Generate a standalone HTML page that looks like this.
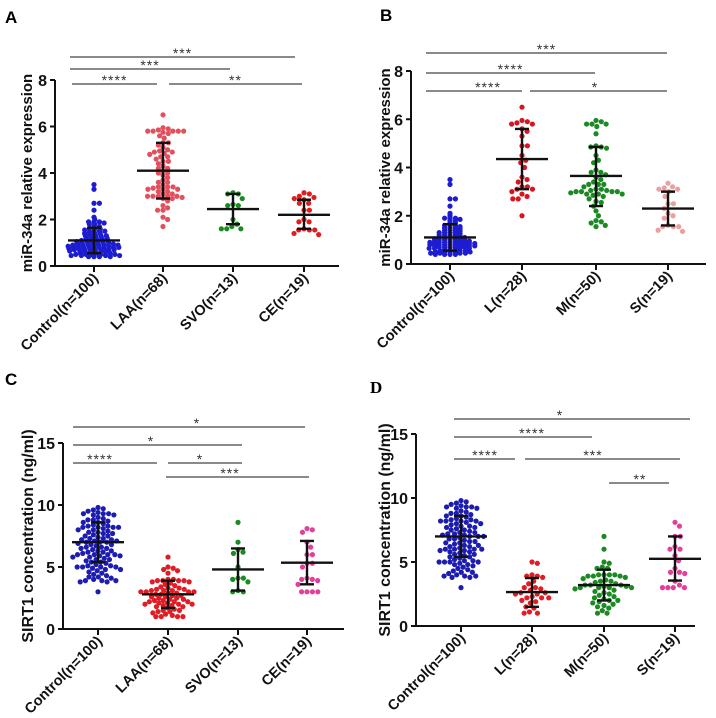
<!DOCTYPE html>
<html><head><meta charset="utf-8"><style>
body{margin:0;background:#fff;}
svg{display:block;font-family:"Liberation Sans",Arial,sans-serif;}
</style></head><body>
<svg id="fig" width="716" height="718" viewBox="0 0 716 718"></svg>
<script>
// ---- data arrays ----
const miCtrl=[3.5,3.3,2.7,2.7,2.4,2.1,2.0,1.9,1.9,1.9,1.85,1.8,1.8,1.7,1.7,1.6,1.6,1.6,1.55,1.5,1.5,1.5,1.45,1.4,1.4,1.4,1.35,1.3,1.3,1.3,1.25,1.2,1.2,1.2,1.15,1.1,1.1,1.1,1.1,1.05,1.05,1.0,1.0,1.0,1.0,0.95,0.95,0.95,0.9,0.9,0.9,0.9,0.9,0.85,0.85,0.85,0.85,0.8,0.8,0.8,0.8,0.8,0.75,0.75,0.75,0.75,0.7,0.7,0.7,0.7,0.7,0.65,0.65,0.65,0.65,0.6,0.6,0.6,0.55,0.55,0.55,0.5,0.5,0.5,0.5,0.5,0.45,0.45,0.45,0.45,0.4,0.4,0.4,0.4,1.0,1.1,1.2,0.9,0.8,1.3];
const miLAA=[6.5,5.95,5.9,5.85,5.8,5.8,5.8,5.8,5.8,5.75,5.7,5.6,5.5,5.3,5.3,5.2,5.0,4.95,4.9,4.9,4.85,4.8,4.7,4.6,4.5,4.4,4.3,4.2,4.2,4.1,4.0,3.9,3.8,3.7,3.6,3.5,3.4,3.4,3.4,3.35,3.3,3.3,3.3,3.2,3.2,3.1,3.1,3.0,3.0,3.0,3.0,3.0,2.95,2.9,2.9,2.8,2.6,2.5,2.4,2.4,2.1,2.0,1.7,4.5,4.0,3.6,5.1,4.7];
const miSVO=[3.15,3.1,3.1,2.9,2.65,2.6,2.6,2.0,1.8,1.6,1.6,1.6,1.7];
const miCE=[3.15,3.1,3.0,2.95,2.9,2.85,2.7,2.7,2.4,2.4,2.0,1.9,1.9,1.6,1.55,1.55,1.55,1.4,1.35];
const miL=[6.5,5.95,5.9,5.85,5.8,5.8,5.6,5.5,5.3,4.9,4.9,4.5,4.3,4.2,4.0,3.6,3.5,3.4,3.2,3.2,3.1,3.1,3.0,2.9,2.8,2.7,2.7,2.0];
const miM=[5.95,5.9,5.8,5.8,5.8,5.7,5.4,4.9,4.85,4.85,4.8,4.5,4.3,4.2,3.9,3.8,3.8,3.7,3.6,3.5,3.4,3.3,3.3,3.3,3.2,3.1,3.1,3.05,3.05,3.0,3.0,3.0,3.0,2.95,2.9,2.9,2.9,2.85,2.8,2.7,2.6,2.55,2.4,2.2,2.0,1.8,1.75,1.7,1.6,1.55];
const miS=[3.35,3.2,3.15,3.1,3.1,3.0,2.8,2.5,2.5,2.3,2.1,2.0,1.9,1.6,1.55,1.55,1.55,1.4,1.35];
const sCtrl=[9.8,9.7,9.6,9.5,9.4,9.3,9.3,9.3,9.2,9.2,9.0,8.9,8.8,8.8,8.7,8.6,8.5,8.4,8.3,8.3,8.2,8.2,8.2,8.2,8.1,8.0,8.0,7.9,7.8,7.8,7.7,7.6,7.5,7.5,7.4,7.3,7.2,7.2,7.1,7.1,7.0,7.0,7.0,6.9,6.8,6.8,6.7,6.6,6.5,6.5,6.4,6.3,6.2,6.2,6.1,6.0,6.0,6.0,6.0,5.9,5.9,5.8,5.8,5.7,5.6,5.6,5.5,5.4,5.3,5.2,5.1,5.1,5.0,5.0,5.0,5.0,4.9,4.8,4.8,4.7,4.6,4.5,4.4,4.3,4.2,4.2,4.1,4.0,3.9,3.9,3.9,3.8,3.8,3.0,7.3,6.6,8.6,7.7,6.3,5.4];
const sLAA=[5.8,5.0,4.9,4.8,4.7,4.5,4.0,4.0,3.9,3.9,3.9,3.9,3.8,3.8,3.7,3.6,3.5,3.4,3.3,3.3,3.2,3.2,3.1,3.1,3.1,3.0,3.0,3.0,3.0,2.9,2.9,2.8,2.8,2.7,2.7,2.6,2.6,2.5,2.5,2.4,2.4,2.3,2.3,2.2,2.2,2.2,2.1,2.1,2.0,2.0,2.0,1.9,1.9,1.8,1.8,1.7,1.6,1.5,1.5,1.4,1.4,1.3,1.2,1.1,1.0,1.0,1.0,1.0];
const sSVO=[8.6,7.0,6.4,6.2,6.1,5.0,4.1,4.1,4.0,3.8,3.1,3.0,3.0];
const sCE=[8.1,8.0,7.8,7.0,6.6,6.0,6.0,5.3,5.3,5.0,4.1,4.0,4.0,3.9,3.6,3.0,3.0,3.0,3.0];
const sL=[5.0,4.9,4.0,3.9,3.9,3.8,3.5,3.3,3.0,3.0,2.9,2.8,2.6,2.6,2.5,2.5,2.3,2.2,2.2,2.2,2.0,1.9,1.8,1.5,1.4,1.1,1.0,1.0];
const sM=[7.0,6.0,5.0,4.9,4.6,4.5,4.5,4.0,4.0,4.0,4.0,3.9,3.9,3.9,3.8,3.7,3.6,3.5,3.5,3.4,3.3,3.2,3.2,3.2,3.1,3.1,3.0,3.0,3.0,3.0,2.9,2.8,2.7,2.6,2.5,2.4,2.3,2.2,2.1,2.0,2.0,1.9,1.8,1.7,1.6,1.5,1.4,1.2,1.0,1.0];
const sS=[8.1,7.8,7.0,7.0,6.2,6.0,6.0,5.5,5.1,4.5,4.2,4.2,4.1,3.5,3.2,3.0,3.0,3.0,3.0];
const catsA=["Control(n=100)","LAA(n=68)","SVO(n=13)","CE(n=19)"];
const catsB=["Control(n=100)","L(n=28)","M(n=50)","S(n=19)"];
const meanA=[1.1,4.1,2.45,2.2], hiA=[1.65,5.3,3.1,2.85], loA=[0.55,2.9,1.8,1.6];
const meanB=[1.1,4.35,3.65,2.3], hiB=[1.65,5.6,4.85,3.0], loB=[0.55,3.1,2.4,1.6];
const meanC=[7.0,2.8,4.8,5.35], hiC=[8.6,3.9,6.5,7.1], loC=[5.4,1.7,3.1,3.6];
const meanD=[7.0,2.65,3.2,5.25], hiD=[8.6,3.75,4.4,7.0], loD=[5.4,1.5,2.0,3.55];
const ticksMi=[0,2,4,6,8], ticksS=[0,5,10,15];

const NS="http://www.w3.org/2000/svg";
const svg=document.getElementById('fig');
function el(tag,attrs,parent,text){const e=document.createElementNS(NS,tag);for(const k in attrs)e.setAttribute(k,attrs[k]);if(text!==undefined)e.textContent=text;(parent||svg).appendChild(e);return e;}

function swarm(ysRaw,diam,ysc){
  const ys=ysRaw.map(y=>y*ysc);
  const order=ys.map((y,i)=>i).sort((a,b)=>ys[a]-ys[b]);
  const placed=[], offs=new Array(ys.length);
  order.forEach(i=>{
    const y=ys[i]; const cands=[0];
    placed.forEach(p=>{const dy=y-p.y; if(Math.abs(dy)<diam){const dx=Math.sqrt(diam*diam-dy*dy); cands.push(p.x+dx+0.01,p.x-dx-0.01);}});
    cands.sort((a,b)=>Math.abs(a)-Math.abs(b));
    let best=0;
    for(const c of cands){ if(placed.every(p=>(p.x-c)**2+(p.y-y)**2>=diam*diam-0.01)){best=c;break;} }
    placed.push({x:best,y}); offs[i]=best;
  });
  return offs;
}

function panel(cfg){
  const g=el('g',{},svg);
  
  
  const yS=v=>cfg.y0-(v/cfg.ymax)*(cfg.y0-cfg.yTop);
  const L=el('text',{x:cfg.lx,y:cfg.ly,'font-size':17,'font-weight':'bold','font-family':cfg.serif?'"Liberation Serif",serif':'"Liberation Sans",sans-serif'},g,cfg.letter);
  
  const ya=el('line',{x1:cfg.ax,y1:cfg.yTop,x2:cfg.ax,y2:cfg.y0+1,stroke:'#111','stroke-width':2},g);
  
  const xa=el('line',{x1:cfg.ax-1,y1:cfg.y0,x2:cfg.xEnd,y2:cfg.y0,stroke:'#111','stroke-width':2},g);
  
  cfg.ticks.forEach(t=>{
    el('line',{x1:cfg.ax-5,y1:yS(t),x2:cfg.ax,y2:yS(t),stroke:'#111','stroke-width':2},g);
    const tl=el('text',{x:cfg.ax-8,y:yS(t)+6,'text-anchor':'end','font-size':16,'font-weight':'bold',fill:'#111'},g,String(t));
    
  });
  const yt=el('text',{transform:`translate(${cfg.ytx},${(cfg.y0+cfg.yTop)/2}) rotate(-90)`,'text-anchor':'middle','font-size':cfg.ytSize,'font-weight':'bold',fill:'#111'},g,cfg.ytitle);
  
  cfg.cats.forEach((c,i)=>{
    const x=cfg.cx[i];
    el('line',{x1:x,y1:cfg.y0,x2:x,y2:cfg.y0+6,stroke:'#111','stroke-width':2},g);
    const cl=el('text',{transform:`translate(${x+5},${cfg.y0+13}) rotate(-45)`,'text-anchor':'end','font-size':14.5,'font-weight':'bold',fill:'#111'},g,c);
    
    const vals=cfg.data[i];
    const ys=vals.map(yS);
    const offs=swarm(ys,5.4,cfg.ysc[i]);
    vals.forEach((v,k)=>{
      const dot=el('circle',{cx:x+offs[k],cy:ys[k],r:2.6,fill:cfg.colors[i]},g);
      
    });
    const m=el('line',{x1:x-cfg.mw,y1:yS(cfg.mean[i]),x2:x+cfg.mw,y2:yS(cfg.mean[i]),stroke:'#111','stroke-width':2.4},g);
    
    const e=el('path',{d:`M${x},${yS(cfg.hi[i])}V${yS(cfg.lo[i])}M${x-7},${yS(cfg.hi[i])}H${x+7}M${x-7},${yS(cfg.lo[i])}H${x+7}`,stroke:'#111','stroke-width':2.4,fill:'none'},g);
    
  });
  cfg.br.forEach(b=>{
    const l=el('line',{x1:b[0],y1:b[2],x2:b[1],y2:b[2],stroke:'#444','stroke-width':1.2},g);
    
    const s=el('text',{x:b[4]!==undefined?b[4]:(b[0]+b[1])/2,y:b[2]+1,'text-anchor':'middle','font-size':14,fill:'#333','letter-spacing':'1'},g,b[3]);
    
  });
}

panel({letter:'A',lx:5,ly:23,ax:55,y0:266,yTop:80,ymax:8,xEnd:339,cx:[94,163,233,304],ticks:ticksMi,ysc:[2.3,1.2,0.8,0.8],
  ytitle:'miR-34a relative expression',ytx:32,ytSize:15,cats:catsA,data:[miCtrl,miLAA,miSVO,miCE],
  colors:['#1c1cd0','#e2505e','#1c8a22','#e01c1c'],mean:meanA,hi:hiA,lo:loA,mw:26,
  br:[[70,295,57,'***'],[70,230,69,'***'],[72,157,84,'****'],[169,302,84,'**']]});
panel({letter:'B',lx:380,ly:21,ax:411,y0:264,yTop:71,ymax:8,xEnd:706,cx:[450,522,596,668],ticks:ticksMi,ysc:[2.3,0.8,1.0,0.8],
  ytitle:'miR-34a relative expression',ytx:390,ytSize:15,cats:catsB,data:[miCtrl,miL,miM,miS],
  colors:['#1c1cd0','#d81420','#1c8a22','#eaa0a0'],mean:meanB,hi:hiB,lo:loB,mw:26,
  br:[[426,667,53,'***'],[426,595,73,'****'],[426,522,91,'****',488],[530,667,91,'*',595]]});
panel({letter:'C',lx:5,ly:385,ax:63,y0:629,yTop:443,ymax:15,xEnd:344,cx:[98,168,238,307],ticks:ticksS,ysc:[1.1,1.3,0.8,0.8],
  ytitle:'SIRT1 concentration (ng/ml)',ytx:33,ytSize:16,cats:catsA,data:[sCtrl,sLAA,sSVO,sCE],
  colors:['#1c1cb0','#e01c24','#1c8a22','#e0409a'],mean:meanC,hi:hiC,lo:loC,mw:26,
  br:[[73,305,427,'*',197],[73,242,445,'*',151],[73,157,463,'****',100],[168,242,463,'*',200],[166,309,477,'***',230]]});
panel({letter:'D',serif:true,lx:370,ly:393,ax:416,y0:626,yTop:434,ymax:15,xEnd:695,cx:[461,532,604,675],ticks:ticksS,ysc:[1.1,0.8,1.0,0.8],
  ytitle:'SIRT1 concentration (ng/ml)',ytx:390,ytSize:16,cats:catsB,data:[sCtrl,sL,sM,sS],
  colors:['#1c1cb0','#e01c24','#1c8a22','#e0409a'],mean:meanD,hi:hiD,lo:loD,mw:26,
  br:[[454,690,419,'*',560],[454,592,437,'****',532],[454,515,459,'****',485],[525,680,459,'***',593],[609,669,483,'**',640]]});
</script>
</body></html>
